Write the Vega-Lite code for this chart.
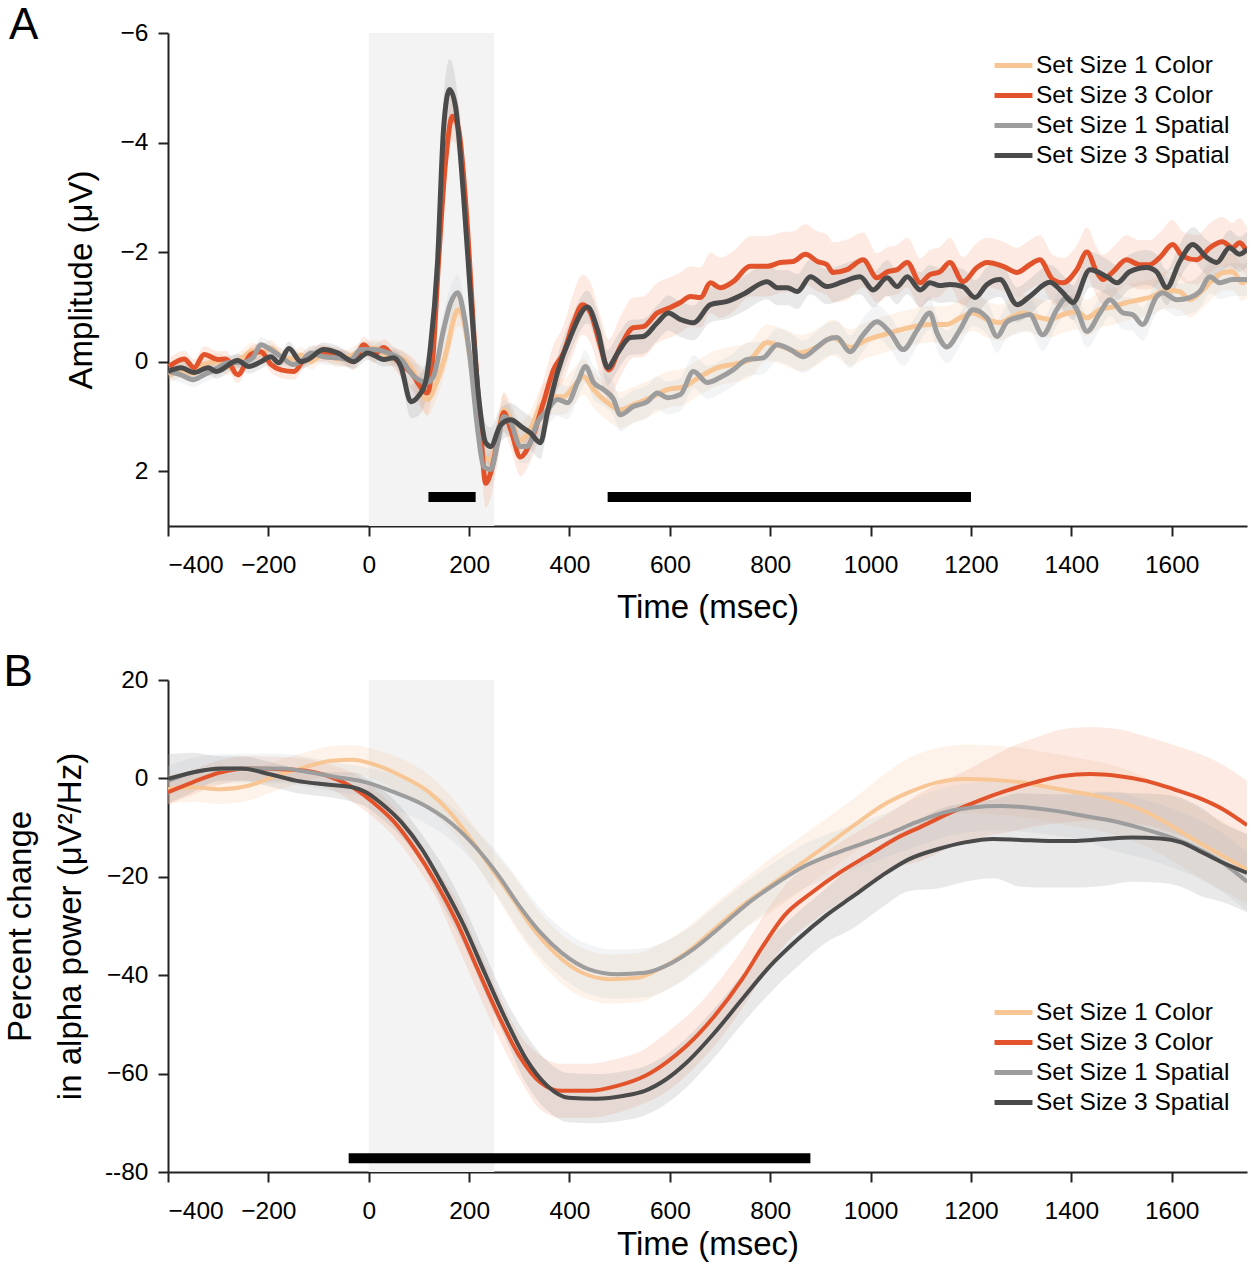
{
"$schema":"https://vega.github.io/schema/vega-lite/v6.json",
"background":"white",
"padding":{"left":3,"top":4,"right":5,"bottom":5},
"spacing":26,
"config":{
 "font":"Liberation Sans",
 "view":{"stroke":null},
 "axis":{"domainColor":"#222","domainWidth":2,"tickColor":"#222","tickWidth":2,"tickSize":10,"labelFontSize":24.5,"labelColor":"#000","titleFontSize":33,"titleFontWeight":"normal","titleColor":"#000","grid":false,"labelFont":"Liberation Sans","titleFont":"Liberation Sans"},
 "axisX":{"labelPadding":17,"titlePadding":15},
 "axisY":{"labelPadding":10,"titlePadding":14},
 "legend":{"title":null,"orient":"none","symbolType":"M-1.2,0H1.2","symbolStrokeWidth":5,"symbolSize":1000,"labelFontSize":24.5,"labelFont":"Liberation Sans","labelColor":"#000","rowPadding":0,"labelOffset":4,"labelLimit":400,"padding":0},
 "title":{"fontSize":44,"fontWeight":"normal","anchor":"start","frame":"bounds","font":"Liberation Sans","color":"#000","offset":-28}
},
"datasets":{
 "shA":[{"t":0,"t2":250,"v":-6,"v2":3}],
 "barA":[{"t":119,"t2":213,"v":2.47},{"t":476,"t2":1200,"v":2.47}],
 "shB":[{"t":0,"t2":250,"v":-80,"v2":20}],
 "barB":[{"t":-40,"t2":880,"v":-77.2}],
 "A":[
{"s":"c1","t":-398,"v":0.25,"e":0.15},{"s":"c1","t":-374,"v":0.15,"e":0.15},{"s":"c1","t":-350,"v":0.22,"e":0.15},{"s":"c1","t":-328,"v":0.05,"e":0.15},{"s":"c1","t":-300,"v":0.0,"e":0.15},{"s":"c1","t":-281,"v":0.1,"e":0.15},{"s":"c1","t":-255,"v":-0.05,"e":0.15},{"s":"c1","t":-231,"v":-0.2,"e":0.15},{"s":"c1","t":-215,"v":-0.15,"e":0.15},{"s":"c1","t":-195,"v":-0.25,"e":0.15},{"s":"c1","t":-175,"v":-0.1,"e":0.15},{"s":"c1","t":-151,"v":-0.05,"e":0.15},{"s":"c1","t":-135,"v":-0.12,"e":0.15},{"s":"c1","t":-115,"v":0.0,"e":0.15},{"s":"c1","t":-90,"v":-0.15,"e":0.15},{"s":"c1","t":-62,"v":-0.05,"e":0.15},{"s":"c1","t":-36,"v":-0.1,"e":0.15},{"s":"c1","t":-16,"v":-0.2,"e":0.15},{"s":"c1","t":10,"v":-0.25,"e":0.15},{"s":"c1","t":38,"v":-0.1,"e":0.15},{"s":"c1","t":64,"v":-0.07,"e":0.15},{"s":"c1","t":90,"v":0.2,"e":0.2},{"s":"c1","t":117,"v":0.69,"e":0.3},{"s":"c1","t":137,"v":0.33,"e":0.3},{"s":"c1","t":157,"v":-0.27,"e":0.3},{"s":"c1","t":169,"v":-0.77,"e":0.3},{"s":"c1","t":179,"v":-0.95,"e":0.3},{"s":"c1","t":189,"v":-0.77,"e":0.3},{"s":"c1","t":203,"v":0.02,"e":0.3},{"s":"c1","t":217,"v":1.06,"e":0.3},{"s":"c1","t":229,"v":1.74,"e":0.3},{"s":"c1","t":243,"v":1.79,"e":0.3},{"s":"c1","t":257,"v":1.37,"e":0.3},{"s":"c1","t":269,"v":0.88,"e":0.33},{"s":"c1","t":283,"v":1.06,"e":0.33},{"s":"c1","t":302,"v":1.43,"e":0.33},{"s":"c1","t":322,"v":1.24,"e":0.33},{"s":"c1","t":342,"v":0.82,"e":0.33},{"s":"c1","t":362,"v":0.64,"e":0.33},{"s":"c1","t":388,"v":0.64,"e":0.33},{"s":"c1","t":408,"v":0.46,"e":0.33},{"s":"c1","t":428,"v":0.27,"e":0.33},{"s":"c1","t":448,"v":0.51,"e":0.33},{"s":"c1","t":476,"v":0.75,"e":0.33},{"s":"c1","t":501,"v":0.88,"e":0.33},{"s":"c1","t":527,"v":0.79,"e":0.33},{"s":"c1","t":561,"v":0.66,"e":0.33},{"s":"c1","t":595,"v":0.51,"e":0.33},{"s":"c1","t":627,"v":0.46,"e":0.33},{"s":"c1","t":661,"v":0.27,"e":0.33},{"s":"c1","t":695,"v":0.11,"e":0.33},{"s":"c1","t":726,"v":0.05,"e":0.33},{"s":"c1","t":760,"v":-0.04,"e":0.33},{"s":"c1","t":794,"v":-0.35,"e":0.33},{"s":"c1","t":826,"v":-0.27,"e":0.33},{"s":"c1","t":860,"v":-0.16,"e":0.33},{"s":"c1","t":894,"v":-0.27,"e":0.33},{"s":"c1","t":925,"v":-0.44,"e":0.33},{"s":"c1","t":959,"v":-0.26,"e":0.33},{"s":"c1","t":993,"v":-0.4,"e":0.33},{"s":"c1","t":1025,"v":-0.49,"e":0.33},{"s":"c1","t":1059,"v":-0.58,"e":0.33},{"s":"c1","t":1085,"v":-0.64,"e":0.33},{"s":"c1","t":1118,"v":-0.68,"e":0.33},{"s":"c1","t":1152,"v":-0.68,"e":0.33},{"s":"c1","t":1178,"v":-0.8,"e":0.33},{"s":"c1","t":1204,"v":-0.89,"e":0.33},{"s":"c1","t":1232,"v":-0.77,"e":0.33},{"s":"c1","t":1258,"v":-0.71,"e":0.33},{"s":"c1","t":1278,"v":-0.8,"e":0.33},{"s":"c1","t":1303,"v":-0.89,"e":0.33},{"s":"c1","t":1331,"v":-0.82,"e":0.33},{"s":"c1","t":1357,"v":-0.77,"e":0.33},{"s":"c1","t":1383,"v":-0.86,"e":0.33},{"s":"c1","t":1411,"v":-0.91,"e":0.33},{"s":"c1","t":1431,"v":-0.8,"e":0.33},{"s":"c1","t":1457,"v":-0.95,"e":0.33},{"s":"c1","t":1483,"v":-1.0,"e":0.33},{"s":"c1","t":1510,"v":-1.08,"e":0.33},{"s":"c1","t":1536,"v":-1.13,"e":0.33},{"s":"c1","t":1562,"v":-1.19,"e":0.33},{"s":"c1","t":1590,"v":-1.31,"e":0.33},{"s":"c1","t":1616,"v":-1.28,"e":0.33},{"s":"c1","t":1636,"v":-1.13,"e":0.33},{"s":"c1","t":1662,"v":-1.31,"e":0.33},{"s":"c1","t":1682,"v":-1.5,"e":0.33},{"s":"c1","t":1701,"v":-1.62,"e":0.33},{"s":"c1","t":1721,"v":-1.64,"e":0.33},{"s":"c1","t":1741,"v":-1.44,"e":0.33},{"s":"c1","t":1750,"v":-1.5,"e":0.33},
{"s":"c3","t":-398,"v":0.09,"e":0.15},{"s":"c3","t":-368,"v":-0.05,"e":0.15},{"s":"c3","t":-348,"v":0.11,"e":0.15},{"s":"c3","t":-328,"v":-0.13,"e":0.15},{"s":"c3","t":-300,"v":-0.04,"e":0.15},{"s":"c3","t":-285,"v":-0.05,"e":0.15},{"s":"c3","t":-261,"v":0.24,"e":0.15},{"s":"c3","t":-235,"v":-0.13,"e":0.15},{"s":"c3","t":-215,"v":-0.18,"e":0.15},{"s":"c3","t":-195,"v":0.05,"e":0.15},{"s":"c3","t":-175,"v":0.15,"e":0.15},{"s":"c3","t":-149,"v":0.18,"e":0.15},{"s":"c3","t":-129,"v":-0.04,"e":0.15},{"s":"c3","t":-101,"v":-0.16,"e":0.15},{"s":"c3","t":-76,"v":-0.13,"e":0.15},{"s":"c3","t":-50,"v":-0.07,"e":0.15},{"s":"c3","t":-30,"v":0.0,"e":0.15},{"s":"c3","t":-10,"v":-0.31,"e":0.15},{"s":"c3","t":10,"v":-0.13,"e":0.15},{"s":"c3","t":30,"v":-0.26,"e":0.15},{"s":"c3","t":50,"v":-0.07,"e":0.2},{"s":"c3","t":84,"v":0.2,"e":0.3},{"s":"c3","t":117,"v":0.57,"e":0.4},{"s":"c3","t":127,"v":0.02,"e":0.4},{"s":"c3","t":139,"v":-1.81,"e":0.4},{"s":"c3","t":153,"v":-3.64,"e":0.45},{"s":"c3","t":167,"v":-4.48,"e":0.45},{"s":"c3","t":179,"v":-4.24,"e":0.45},{"s":"c3","t":197,"v":-2.41,"e":0.4},{"s":"c3","t":209,"v":-0.58,"e":0.4},{"s":"c3","t":223,"v":1.24,"e":0.4},{"s":"c3","t":233,"v":2.22,"e":0.45},{"s":"c3","t":243,"v":2.03,"e":0.45},{"s":"c3","t":257,"v":1.43,"e":0.4},{"s":"c3","t":269,"v":0.93,"e":0.35},{"s":"c3","t":283,"v":1.24,"e":0.35},{"s":"c3","t":302,"v":1.74,"e":0.35},{"s":"c3","t":322,"v":1.48,"e":0.35},{"s":"c3","t":348,"v":0.75,"e":0.4},{"s":"c3","t":368,"v":0.15,"e":0.45},{"s":"c3","t":388,"v":-0.16,"e":0.5},{"s":"c3","t":408,"v":-0.71,"e":0.55},{"s":"c3","t":426,"v":-1.04,"e":0.55},{"s":"c3","t":442,"v":-0.89,"e":0.55},{"s":"c3","t":462,"v":-0.27,"e":0.55},{"s":"c3","t":478,"v":0.15,"e":0.55},{"s":"c3","t":501,"v":-0.27,"e":0.55},{"s":"c3","t":527,"v":-0.62,"e":0.55},{"s":"c3","t":547,"v":-0.64,"e":0.55},{"s":"c3","t":575,"v":-0.89,"e":0.55},{"s":"c3","t":601,"v":-0.99,"e":0.55},{"s":"c3","t":621,"v":-1.08,"e":0.55},{"s":"c3","t":641,"v":-1.19,"e":0.55},{"s":"c3","t":661,"v":-1.17,"e":0.55},{"s":"c3","t":681,"v":-1.44,"e":0.55},{"s":"c3","t":700,"v":-1.35,"e":0.55},{"s":"c3","t":726,"v":-1.46,"e":0.55},{"s":"c3","t":760,"v":-1.74,"e":0.55},{"s":"c3","t":794,"v":-1.74,"e":0.55},{"s":"c3","t":820,"v":-1.81,"e":0.55},{"s":"c3","t":846,"v":-1.83,"e":0.55},{"s":"c3","t":870,"v":-1.96,"e":0.55},{"s":"c3","t":894,"v":-1.83,"e":0.55},{"s":"c3","t":913,"v":-1.77,"e":0.55},{"s":"c3","t":925,"v":-1.63,"e":0.55},{"s":"c3","t":953,"v":-1.68,"e":0.55},{"s":"c3","t":985,"v":-1.86,"e":0.5},{"s":"c3","t":1013,"v":-1.53,"e":0.45},{"s":"c3","t":1033,"v":-1.64,"e":0.45},{"s":"c3","t":1053,"v":-1.68,"e":0.45},{"s":"c3","t":1073,"v":-1.81,"e":0.45},{"s":"c3","t":1099,"v":-1.44,"e":0.45},{"s":"c3","t":1118,"v":-1.59,"e":0.45},{"s":"c3","t":1138,"v":-1.64,"e":0.45},{"s":"c3","t":1158,"v":-1.81,"e":0.45},{"s":"c3","t":1184,"v":-1.46,"e":0.45},{"s":"c3","t":1212,"v":-1.72,"e":0.45},{"s":"c3","t":1232,"v":-1.81,"e":0.45},{"s":"c3","t":1264,"v":-1.74,"e":0.45},{"s":"c3","t":1292,"v":-1.63,"e":0.45},{"s":"c3","t":1317,"v":-1.77,"e":0.45},{"s":"c3","t":1337,"v":-1.86,"e":0.45},{"s":"c3","t":1363,"v":-1.5,"e":0.45},{"s":"c3","t":1383,"v":-1.44,"e":0.45},{"s":"c3","t":1411,"v":-1.68,"e":0.45},{"s":"c3","t":1431,"v":-2.0,"e":0.45},{"s":"c3","t":1451,"v":-1.63,"e":0.45},{"s":"c3","t":1463,"v":-1.5,"e":0.45},{"s":"c3","t":1483,"v":-1.64,"e":0.45},{"s":"c3","t":1510,"v":-1.86,"e":0.45},{"s":"c3","t":1536,"v":-1.77,"e":0.45},{"s":"c3","t":1556,"v":-1.77,"e":0.45},{"s":"c3","t":1576,"v":-1.9,"e":0.45},{"s":"c3","t":1602,"v":-2.14,"e":0.45},{"s":"c3","t":1622,"v":-1.92,"e":0.45},{"s":"c3","t":1650,"v":-1.86,"e":0.45},{"s":"c3","t":1676,"v":-2.08,"e":0.45},{"s":"c3","t":1701,"v":-2.19,"e":0.45},{"s":"c3","t":1721,"v":-2.08,"e":0.45},{"s":"c3","t":1735,"v":-2.17,"e":0.45},{"s":"c3","t":1750,"v":-2.0,"e":0.45},
{"s":"s1","t":-398,"v":0.18,"e":0.14},{"s":"s1","t":-374,"v":0.24,"e":0.14},{"s":"s1","t":-350,"v":0.33,"e":0.14},{"s":"s1","t":-328,"v":0.24,"e":0.14},{"s":"s1","t":-300,"v":0.11,"e":0.14},{"s":"s1","t":-281,"v":0.02,"e":0.14},{"s":"s1","t":-255,"v":0.02,"e":0.14},{"s":"s1","t":-231,"v":-0.07,"e":0.14},{"s":"s1","t":-215,"v":-0.31,"e":0.14},{"s":"s1","t":-195,"v":-0.22,"e":0.14},{"s":"s1","t":-175,"v":-0.09,"e":0.14},{"s":"s1","t":-151,"v":0.05,"e":0.14},{"s":"s1","t":-135,"v":0.0,"e":0.14},{"s":"s1","t":-115,"v":-0.16,"e":0.14},{"s":"s1","t":-90,"v":-0.09,"e":0.14},{"s":"s1","t":-62,"v":-0.07,"e":0.14},{"s":"s1","t":-36,"v":-0.04,"e":0.14},{"s":"s1","t":-16,"v":-0.22,"e":0.14},{"s":"s1","t":10,"v":-0.22,"e":0.14},{"s":"s1","t":38,"v":-0.16,"e":0.14},{"s":"s1","t":64,"v":-0.04,"e":0.16},{"s":"s1","t":90,"v":0.27,"e":0.25},{"s":"s1","t":117,"v":0.38,"e":0.3},{"s":"s1","t":129,"v":0.27,"e":0.3},{"s":"s1","t":149,"v":-0.58,"e":0.3},{"s":"s1","t":163,"v":-1.07,"e":0.3},{"s":"s1","t":177,"v":-1.26,"e":0.32},{"s":"s1","t":189,"v":-0.89,"e":0.3},{"s":"s1","t":203,"v":0.02,"e":0.3},{"s":"s1","t":217,"v":1.24,"e":0.3},{"s":"s1","t":229,"v":1.92,"e":0.3},{"s":"s1","t":243,"v":1.97,"e":0.3},{"s":"s1","t":257,"v":1.48,"e":0.3},{"s":"s1","t":269,"v":1.0,"e":0.3},{"s":"s1","t":283,"v":1.11,"e":0.3},{"s":"s1","t":302,"v":1.55,"e":0.3},{"s":"s1","t":316,"v":1.55,"e":0.3},{"s":"s1","t":336,"v":1.11,"e":0.3},{"s":"s1","t":356,"v":0.88,"e":0.3},{"s":"s1","t":376,"v":0.69,"e":0.3},{"s":"s1","t":396,"v":0.75,"e":0.3},{"s":"s1","t":416,"v":0.38,"e":0.3},{"s":"s1","t":432,"v":0.09,"e":0.3},{"s":"s1","t":448,"v":0.38,"e":0.3},{"s":"s1","t":468,"v":0.51,"e":0.3},{"s":"s1","t":488,"v":0.69,"e":0.3},{"s":"s1","t":501,"v":0.97,"e":0.3},{"s":"s1","t":527,"v":0.82,"e":0.3},{"s":"s1","t":555,"v":0.73,"e":0.3},{"s":"s1","t":575,"v":0.57,"e":0.3},{"s":"s1","t":595,"v":0.66,"e":0.3},{"s":"s1","t":621,"v":0.6,"e":0.3},{"s":"s1","t":647,"v":0.18,"e":0.3},{"s":"s1","t":675,"v":0.38,"e":0.3},{"s":"s1","t":700,"v":0.29,"e":0.3},{"s":"s1","t":726,"v":0.15,"e":0.3},{"s":"s1","t":754,"v":-0.04,"e":0.3},{"s":"s1","t":786,"v":-0.07,"e":0.3},{"s":"s1","t":814,"v":-0.31,"e":0.3},{"s":"s1","t":840,"v":-0.22,"e":0.3},{"s":"s1","t":866,"v":-0.09,"e":0.3},{"s":"s1","t":894,"v":-0.27,"e":0.3},{"s":"s1","t":913,"v":-0.4,"e":0.3},{"s":"s1","t":933,"v":-0.44,"e":0.3},{"s":"s1","t":959,"v":-0.18,"e":0.3},{"s":"s1","t":985,"v":-0.49,"e":0.3},{"s":"s1","t":1013,"v":-0.73,"e":0.3},{"s":"s1","t":1039,"v":-0.53,"e":0.3},{"s":"s1","t":1065,"v":-0.22,"e":0.3},{"s":"s1","t":1093,"v":-0.58,"e":0.3},{"s":"s1","t":1118,"v":-0.89,"e":0.3},{"s":"s1","t":1132,"v":-0.53,"e":0.3},{"s":"s1","t":1152,"v":-0.27,"e":0.3},{"s":"s1","t":1178,"v":-0.58,"e":0.3},{"s":"s1","t":1204,"v":-0.95,"e":0.3},{"s":"s1","t":1232,"v":-0.8,"e":0.3},{"s":"s1","t":1252,"v":-0.46,"e":0.3},{"s":"s1","t":1272,"v":-0.73,"e":0.3},{"s":"s1","t":1298,"v":-0.82,"e":0.3},{"s":"s1","t":1317,"v":-0.86,"e":0.3},{"s":"s1","t":1343,"v":-0.49,"e":0.3},{"s":"s1","t":1371,"v":-0.95,"e":0.3},{"s":"s1","t":1391,"v":-1.17,"e":0.3},{"s":"s1","t":1411,"v":-0.95,"e":0.3},{"s":"s1","t":1431,"v":-0.55,"e":0.3},{"s":"s1","t":1457,"v":-0.89,"e":0.3},{"s":"s1","t":1477,"v":-1.13,"e":0.3},{"s":"s1","t":1503,"v":-0.89,"e":0.3},{"s":"s1","t":1522,"v":-0.86,"e":0.3},{"s":"s1","t":1542,"v":-0.68,"e":0.3},{"s":"s1","t":1570,"v":-1.19,"e":0.3},{"s":"s1","t":1582,"v":-1.26,"e":0.3},{"s":"s1","t":1610,"v":-1.13,"e":0.3},{"s":"s1","t":1636,"v":-1.17,"e":0.3},{"s":"s1","t":1656,"v":-1.28,"e":0.3},{"s":"s1","t":1676,"v":-1.55,"e":0.3},{"s":"s1","t":1696,"v":-1.44,"e":0.3},{"s":"s1","t":1721,"v":-1.5,"e":0.3},{"s":"s1","t":1750,"v":-1.5,"e":0.3},
{"s":"s3","t":-400,"v":0.18,"e":0.13},{"s":"s3","t":-374,"v":0.11,"e":0.13},{"s":"s3","t":-348,"v":0.2,"e":0.13},{"s":"s3","t":-320,"v":0.11,"e":0.13},{"s":"s3","t":-304,"v":0.18,"e":0.13},{"s":"s3","t":-261,"v":-0.02,"e":0.13},{"s":"s3","t":-239,"v":0.09,"e":0.13},{"s":"s3","t":-215,"v":0.0,"e":0.13},{"s":"s3","t":-195,"v":-0.09,"e":0.13},{"s":"s3","t":-179,"v":0.02,"e":0.13},{"s":"s3","t":-159,"v":-0.24,"e":0.13},{"s":"s3","t":-135,"v":0.0,"e":0.13},{"s":"s3","t":-121,"v":-0.04,"e":0.13},{"s":"s3","t":-90,"v":-0.22,"e":0.13},{"s":"s3","t":-62,"v":-0.16,"e":0.13},{"s":"s3","t":-30,"v":0.0,"e":0.13},{"s":"s3","t":-2,"v":-0.16,"e":0.13},{"s":"s3","t":30,"v":-0.04,"e":0.13},{"s":"s3","t":50,"v":-0.07,"e":0.15},{"s":"s3","t":64,"v":0.09,"e":0.2},{"s":"s3","t":84,"v":0.73,"e":0.3},{"s":"s3","t":98,"v":0.64,"e":0.35},{"s":"s3","t":113,"v":0.38,"e":0.35},{"s":"s3","t":123,"v":-0.27,"e":0.4},{"s":"s3","t":137,"v":-1.81,"e":0.45},{"s":"s3","t":149,"v":-4.24,"e":0.55},{"s":"s3","t":161,"v":-4.97,"e":0.55},{"s":"s3","t":173,"v":-4.65,"e":0.5},{"s":"s3","t":189,"v":-3.01,"e":0.45},{"s":"s3","t":203,"v":-1.19,"e":0.4},{"s":"s3","t":219,"v":0.64,"e":0.4},{"s":"s3","t":233,"v":1.48,"e":0.35},{"s":"s3","t":243,"v":1.55,"e":0.35},{"s":"s3","t":263,"v":1.15,"e":0.3},{"s":"s3","t":283,"v":1.06,"e":0.3},{"s":"s3","t":306,"v":1.2,"e":0.3},{"s":"s3","t":322,"v":1.3,"e":0.3},{"s":"s3","t":342,"v":1.48,"e":0.3},{"s":"s3","t":356,"v":0.93,"e":0.3},{"s":"s3","t":376,"v":0.2,"e":0.3},{"s":"s3","t":402,"v":-0.46,"e":0.3},{"s":"s3","t":436,"v":-1.0,"e":0.3},{"s":"s3","t":456,"v":-0.58,"e":0.32},{"s":"s3","t":476,"v":0.11,"e":0.32},{"s":"s3","t":496,"v":-0.16,"e":0.32},{"s":"s3","t":521,"v":-0.44,"e":0.32},{"s":"s3","t":547,"v":-0.46,"e":0.32},{"s":"s3","t":575,"v":-0.71,"e":0.32},{"s":"s3","t":597,"v":-0.89,"e":0.32},{"s":"s3","t":621,"v":-0.77,"e":0.32},{"s":"s3","t":647,"v":-0.71,"e":0.32},{"s":"s3","t":681,"v":-1.04,"e":0.32},{"s":"s3","t":714,"v":-1.1,"e":0.32},{"s":"s3","t":746,"v":-1.23,"e":0.32},{"s":"s3","t":794,"v":-1.46,"e":0.32},{"s":"s3","t":814,"v":-1.35,"e":0.32},{"s":"s3","t":834,"v":-1.35,"e":0.32},{"s":"s3","t":854,"v":-1.28,"e":0.32},{"s":"s3","t":880,"v":-1.55,"e":0.32},{"s":"s3","t":913,"v":-1.37,"e":0.32},{"s":"s3","t":945,"v":-1.46,"e":0.32},{"s":"s3","t":979,"v":-1.55,"e":0.32},{"s":"s3","t":1005,"v":-1.31,"e":0.32},{"s":"s3","t":1033,"v":-1.53,"e":0.32},{"s":"s3","t":1053,"v":-1.37,"e":0.32},{"s":"s3","t":1073,"v":-1.55,"e":0.32},{"s":"s3","t":1099,"v":-1.31,"e":0.32},{"s":"s3","t":1118,"v":-1.44,"e":0.32},{"s":"s3","t":1138,"v":-1.39,"e":0.32},{"s":"s3","t":1158,"v":-1.41,"e":0.32},{"s":"s3","t":1184,"v":-1.37,"e":0.32},{"s":"s3","t":1208,"v":-1.17,"e":0.32},{"s":"s3","t":1232,"v":-1.41,"e":0.32},{"s":"s3","t":1258,"v":-1.5,"e":0.32},{"s":"s3","t":1292,"v":-1.04,"e":0.32},{"s":"s3","t":1317,"v":-1.19,"e":0.32},{"s":"s3","t":1357,"v":-1.45,"e":0.32},{"s":"s3","t":1383,"v":-1.26,"e":0.32},{"s":"s3","t":1403,"v":-1.08,"e":0.32},{"s":"s3","t":1437,"v":-1.68,"e":0.32},{"s":"s3","t":1471,"v":-1.55,"e":0.32},{"s":"s3","t":1491,"v":-1.44,"e":0.32},{"s":"s3","t":1516,"v":-1.64,"e":0.32},{"s":"s3","t":1550,"v":-1.72,"e":0.32},{"s":"s3","t":1570,"v":-1.64,"e":0.32},{"s":"s3","t":1590,"v":-1.35,"e":0.32},{"s":"s3","t":1616,"v":-1.83,"e":0.32},{"s":"s3","t":1642,"v":-2.14,"e":0.32},{"s":"s3","t":1670,"v":-1.9,"e":0.32},{"s":"s3","t":1690,"v":-1.81,"e":0.32},{"s":"s3","t":1715,"v":-2.08,"e":0.32},{"s":"s3","t":1735,"v":-1.96,"e":0.32},{"s":"s3","t":1750,"v":-2.05,"e":0.32}
 ],
 "B":[
{"s":"c1","t":-400,"v":-2.2,"e":3},{"s":"c1","t":-351,"v":-1.8,"e":3},{"s":"c1","t":-296,"v":-2.2,"e":3},{"s":"c1","t":-240,"v":-1.5,"e":3},{"s":"c1","t":-185,"v":0.5,"e":3},{"s":"c1","t":-130,"v":2.2,"e":3},{"s":"c1","t":-74,"v":3.6,"e":3},{"s":"c1","t":-32,"v":3.8,"e":3},{"s":"c1","t":9,"v":2.9,"e":3},{"s":"c1","t":65,"v":0.5,"e":3.5},{"s":"c1","t":120,"v":-2.8,"e":3.5},{"s":"c1","t":162,"v":-6.9,"e":3.5},{"s":"c1","t":203,"v":-12.3,"e":3.5},{"s":"c1","t":245,"v":-18.4,"e":4},{"s":"c1","t":287,"v":-24.5,"e":5},{"s":"c1","t":328,"v":-30.6,"e":5},{"s":"c1","t":370,"v":-35.4,"e":5},{"s":"c1","t":425,"v":-39.5,"e":5},{"s":"c1","t":481,"v":-40.8,"e":5},{"s":"c1","t":536,"v":-40.5,"e":5},{"s":"c1","t":578,"v":-38.8,"e":5},{"s":"c1","t":633,"v":-35.4,"e":5},{"s":"c1","t":689,"v":-30.6,"e":5},{"s":"c1","t":744,"v":-25.9,"e":5},{"s":"c1","t":800,"v":-21.8,"e":5.5},{"s":"c1","t":855,"v":-17.8,"e":5.5},{"s":"c1","t":911,"v":-13.7,"e":5.5},{"s":"c1","t":966,"v":-9.6,"e":5.5},{"s":"c1","t":1022,"v":-5.6,"e":6},{"s":"c1","t":1077,"v":-2.8,"e":7},{"s":"c1","t":1133,"v":-0.8,"e":7},{"s":"c1","t":1188,"v":-0.1,"e":7},{"s":"c1","t":1244,"v":-0.3,"e":7},{"s":"c1","t":1299,"v":-0.8,"e":7},{"s":"c1","t":1355,"v":-1.8,"e":7},{"s":"c1","t":1410,"v":-2.8,"e":7},{"s":"c1","t":1466,"v":-3.9,"e":7},{"s":"c1","t":1521,"v":-5.6,"e":7},{"s":"c1","t":1577,"v":-8.3,"e":7},{"s":"c1","t":1632,"v":-11.7,"e":7},{"s":"c1","t":1688,"v":-15,"e":7},{"s":"c1","t":1750,"v":-18.5,"e":7},
{"s":"c3","t":-400,"v":-2.8,"e":2.5},{"s":"c3","t":-351,"v":-0.8,"e":2.5},{"s":"c3","t":-296,"v":1.2,"e":2.5},{"s":"c3","t":-240,"v":2.0,"e":2.5},{"s":"c3","t":-185,"v":1.9,"e":2.5},{"s":"c3","t":-130,"v":1.6,"e":2.5},{"s":"c3","t":-74,"v":0.2,"e":2.5},{"s":"c3","t":-26,"v":-2.2,"e":3},{"s":"c3","t":9,"v":-4.9,"e":3},{"s":"c3","t":51,"v":-8.9,"e":3},{"s":"c3","t":92,"v":-14.4,"e":3},{"s":"c3","t":134,"v":-21.2,"e":3},{"s":"c3","t":176,"v":-29.3,"e":4.5},{"s":"c3","t":217,"v":-38.8,"e":4.5},{"s":"c3","t":259,"v":-48.3,"e":4.5},{"s":"c3","t":300,"v":-56.4,"e":4.5},{"s":"c3","t":342,"v":-61.8,"e":5.5},{"s":"c3","t":384,"v":-63.5,"e":5.5},{"s":"c3","t":439,"v":-63.5,"e":5.5},{"s":"c3","t":495,"v":-62.5,"e":5.5},{"s":"c3","t":550,"v":-60.5,"e":5.5},{"s":"c3","t":592,"v":-57.8,"e":6},{"s":"c3","t":633,"v":-54.4,"e":6},{"s":"c3","t":689,"v":-48.3,"e":6},{"s":"c3","t":744,"v":-40.8,"e":6},{"s":"c3","t":786,"v":-34,"e":6},{"s":"c3","t":828,"v":-27.9,"e":6},{"s":"c3","t":883,"v":-23.2,"e":6},{"s":"c3","t":939,"v":-19.1,"e":6},{"s":"c3","t":994,"v":-15.7,"e":6},{"s":"c3","t":1049,"v":-12.3,"e":6},{"s":"c3","t":1105,"v":-9.6,"e":7},{"s":"c3","t":1160,"v":-6.9,"e":7},{"s":"c3","t":1216,"v":-4.5,"e":7.5},{"s":"c3","t":1271,"v":-2.5,"e":8.5},{"s":"c3","t":1327,"v":-0.8,"e":9},{"s":"c3","t":1382,"v":0.5,"e":9.5},{"s":"c3","t":1438,"v":0.9,"e":9.5},{"s":"c3","t":1493,"v":0.5,"e":9.5},{"s":"c3","t":1549,"v":-0.5,"e":9},{"s":"c3","t":1604,"v":-2.2,"e":9},{"s":"c3","t":1660,"v":-4.2,"e":9},{"s":"c3","t":1701,"v":-6.2,"e":9},{"s":"c3","t":1750,"v":-9.5,"e":9},
{"s":"s1","t":-400,"v":-0.5,"e":3},{"s":"s1","t":-351,"v":1.2,"e":3},{"s":"s1","t":-296,"v":1.9,"e":3},{"s":"s1","t":-240,"v":2.0,"e":3},{"s":"s1","t":-171,"v":2.0,"e":3},{"s":"s1","t":-116,"v":1.2,"e":3},{"s":"s1","t":-60,"v":0.2,"e":3},{"s":"s1","t":-5,"v":-0.8,"e":3},{"s":"s1","t":51,"v":-2.8,"e":3.5},{"s":"s1","t":106,"v":-5.2,"e":3.5},{"s":"s1","t":162,"v":-8.9,"e":3.5},{"s":"s1","t":217,"v":-14.4,"e":3.5},{"s":"s1","t":259,"v":-19.8,"e":4.5},{"s":"s1","t":300,"v":-25.9,"e":5},{"s":"s1","t":342,"v":-31.3,"e":5},{"s":"s1","t":384,"v":-35.4,"e":5},{"s":"s1","t":439,"v":-38.8,"e":5},{"s":"s1","t":495,"v":-39.8,"e":5},{"s":"s1","t":550,"v":-39.5,"e":5},{"s":"s1","t":592,"v":-38.1,"e":5},{"s":"s1","t":647,"v":-34.7,"e":5},{"s":"s1","t":703,"v":-30,"e":5},{"s":"s1","t":758,"v":-25.2,"e":4.5},{"s":"s1","t":814,"v":-21.2,"e":4.5},{"s":"s1","t":869,"v":-17.8,"e":4.5},{"s":"s1","t":925,"v":-15.4,"e":4.5},{"s":"s1","t":980,"v":-13.4,"e":4.5},{"s":"s1","t":1036,"v":-11.3,"e":4.5},{"s":"s1","t":1091,"v":-8.9,"e":5},{"s":"s1","t":1147,"v":-6.9,"e":5},{"s":"s1","t":1202,"v":-5.9,"e":5},{"s":"s1","t":1258,"v":-5.6,"e":5},{"s":"s1","t":1313,"v":-5.9,"e":5},{"s":"s1","t":1369,"v":-6.6,"e":5},{"s":"s1","t":1424,"v":-7.6,"e":5},{"s":"s1","t":1480,"v":-8.6,"e":6},{"s":"s1","t":1535,"v":-10,"e":6},{"s":"s1","t":1590,"v":-11.7,"e":6},{"s":"s1","t":1646,"v":-14,"e":6},{"s":"s1","t":1701,"v":-17.1,"e":6},{"s":"s1","t":1750,"v":-21,"e":6},
{"s":"s3","t":-400,"v":-0.1,"e":5},{"s":"s3","t":-351,"v":1.2,"e":4},{"s":"s3","t":-296,"v":2.0,"e":2.5},{"s":"s3","t":-254,"v":2.0,"e":2.5},{"s":"s3","t":-199,"v":0.9,"e":2.5},{"s":"s3","t":-143,"v":-0.5,"e":2.5},{"s":"s3","t":-88,"v":-1.2,"e":2.5},{"s":"s3","t":-32,"v":-1.8,"e":3},{"s":"s3","t":-5,"v":-2.8,"e":3},{"s":"s3","t":23,"v":-4.9,"e":3},{"s":"s3","t":65,"v":-8.9,"e":3},{"s":"s3","t":106,"v":-14.4,"e":3},{"s":"s3","t":148,"v":-21.8,"e":4},{"s":"s3","t":190,"v":-30,"e":4},{"s":"s3","t":231,"v":-39.5,"e":4},{"s":"s3","t":273,"v":-49,"e":4},{"s":"s3","t":314,"v":-57.1,"e":5},{"s":"s3","t":356,"v":-62.5,"e":5},{"s":"s3","t":398,"v":-64.9,"e":5},{"s":"s3","t":453,"v":-65.1,"e":5},{"s":"s3","t":509,"v":-64.5,"e":5},{"s":"s3","t":550,"v":-63.5,"e":5},{"s":"s3","t":592,"v":-61.2,"e":5},{"s":"s3","t":633,"v":-57.8,"e":5},{"s":"s3","t":689,"v":-51.7,"e":5},{"s":"s3","t":744,"v":-44.9,"e":5},{"s":"s3","t":800,"v":-38.1,"e":5.5},{"s":"s3","t":855,"v":-32.7,"e":5.5},{"s":"s3","t":911,"v":-27.9,"e":5.5},{"s":"s3","t":966,"v":-23.9,"e":6.5},{"s":"s3","t":1022,"v":-19.8,"e":6.5},{"s":"s3","t":1077,"v":-16.4,"e":6.5},{"s":"s3","t":1133,"v":-14.4,"e":8},{"s":"s3","t":1188,"v":-13,"e":8},{"s":"s3","t":1244,"v":-12.3,"e":8},{"s":"s3","t":1299,"v":-12.5,"e":9.5},{"s":"s3","t":1355,"v":-12.7,"e":9.5},{"s":"s3","t":1410,"v":-12.7,"e":9.5},{"s":"s3","t":1466,"v":-12.3,"e":9.5},{"s":"s3","t":1521,"v":-12,"e":9},{"s":"s3","t":1577,"v":-12.2,"e":9},{"s":"s3","t":1619,"v":-13,"e":9},{"s":"s3","t":1660,"v":-15,"e":9},{"s":"s3","t":1701,"v":-17.1,"e":8},{"s":"s3","t":1750,"v":-19.2,"e":8}
 ]
},
"vconcat":[
 {
  "width":1079,"height":493,
  "title":{"text":"A","dx":-56},
  "encoding":{
   "x":{"field":"t","type":"quantitative","scale":{"domain":[-400,1750],"nice":false,"zero":false},"axis":{"values":[-400,-200,0,200,400,600,800,1000,1200,1400,1600],"format":"d","title":"Time (msec)"}},
   "y":{"field":"v","type":"quantitative","scale":{"domain":[-6,3],"nice":false,"zero":false,"reverse":true},"axis":{"values":[-6,-4,-2,0,2],"title":"Amplitude (μV)","titlePadding":22}}
  },
  "layer":[
   {"data":{"name":"shA"},"mark":{"type":"rect","color":"#f3f3f3"},"encoding":{"x2":{"field":"t2"},"y2":{"field":"v2"}}},
   {"data":{"name":"A"},"mark":{"type":"errorband","interpolate":"monotone","borders":false,"band":{"opacity":0.22},"clip":true},"encoding":{"yError":{"field":"e"},"fill":{"field":"s","type":"nominal","scale":{"domain":["s3","s1","c3","c1"],"range":["#9a9a9a","#c6ccd2","#f0a080","#f6c8a0"]},"legend":null}}},
   {"data":{"name":"A"},"mark":{"type":"line","strokeWidth":5,"interpolate":"monotone","clip":true},"encoding":{"color":{"field":"s","type":"nominal","scale":{"domain":["c1","c3","s1","s3"],"range":["#f8c695","#e2532b","#9d9d9d","#4a4a4a"]},"legend":{"orient":"none","legendX":827,"legendY":14,"labelExpr":"datum.label=='c1'?'Set Size 1 Color':datum.label=='c3'?'Set Size 3 Color':datum.label=='s1'?'Set Size 1 Spatial':'Set Size 3 Spatial'"}}}},
   {"data":{"name":"barA"},"mark":{"type":"rule","strokeWidth":10,"color":"#000","strokeCap":"butt"},"encoding":{"x2":{"field":"t2"}}}
  ]
 },
 {
  "width":1079,"height":492,
  "title":{"text":"B","dx":-1},
  "encoding":{
   "x":{"field":"t","type":"quantitative","scale":{"domain":[-400,1750],"nice":false,"zero":false},"axis":{"values":[-400,-200,0,200,400,600,800,1000,1200,1400,1600],"format":"d","title":"Time (msec)","titlePadding":6}},
   "y":{"field":"v","type":"quantitative","scale":{"domain":[-80,20],"nice":false,"zero":false},"axis":{"values":[-80,-60,-40,-20,0,20],"title":["Percent change","in alpha power (μV²/Hz)"],"titleLineHeight":50,"titlePadding":17,"labelExpr":"datum.value==-80?'--80':datum.label"}}
  },
  "layer":[
   {"data":{"name":"shB"},"mark":{"type":"rect","color":"#f3f3f3"},"encoding":{"x2":{"field":"t2"},"y2":{"field":"v2"}}},
   {"data":{"name":"B"},"mark":{"type":"errorband","interpolate":"monotone","borders":false,"band":{"opacity":0.22},"clip":true},"encoding":{"yError":{"field":"e"},"fill":{"field":"s","type":"nominal","scale":{"domain":["s3","s1","c3","c1"],"range":["#9a9a9a","#c6ccd2","#f0a080","#f6c8a0"]},"legend":null}}},
   {"data":{"name":"B"},"mark":{"type":"line","strokeWidth":4,"interpolate":"monotone","clip":true},"encoding":{"color":{"field":"s","type":"nominal","scale":{"domain":["c1","c3","s1","s3"],"range":["#f8c695","#e2532b","#9d9d9d","#4a4a4a"]},"legend":{"orient":"none","legendX":827,"legendY":314,"labelExpr":"datum.label=='c1'?'Set Size 1 Color':datum.label=='c3'?'Set Size 3 Color':datum.label=='s1'?'Set Size 1 Spatial':'Set Size 3 Spatial'"}}}},
   {"data":{"name":"barB"},"mark":{"type":"rule","strokeWidth":10,"color":"#000","strokeCap":"butt"},"encoding":{"x2":{"field":"t2"}}}
  ]
 }
],
"resolve":{"scale":{"color":"independent","fill":"independent"},"legend":{"color":"independent"}}
}
